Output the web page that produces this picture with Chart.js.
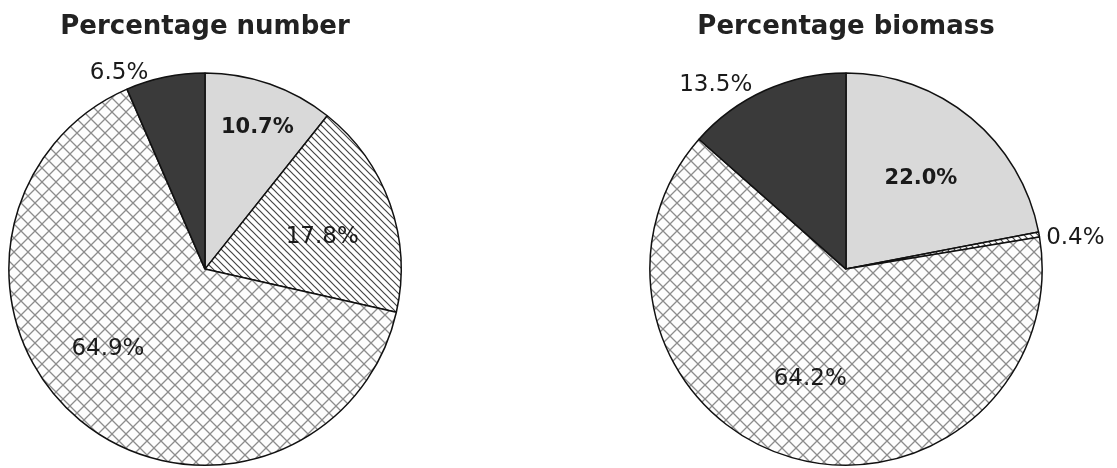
<!DOCTYPE html>
<html>
<head>
<meta charset="utf-8">
<script src="https://cdn.jsdelivr.net/npm/chart.js@4.4.0/dist/chart.umd.min.js"></script>
<style>
  body { margin: 0; background: #fff; }
  .box { position: absolute; top: 0; height: 468px; }
</style>
</head>
<body>
<div class="box" style="left:0;width:420px"><canvas id="pie-number"></canvas></div>
<div class="box" style="left:600px;width:517px"><canvas id="pie-biomass"></canvas></div>
<script>
var categories = ['Group A', 'Group B', 'Group C', 'Group D', 'Group E'];
// left pie: percentage number (group C not present)
var numberValues = [10.7, 17.8, 0, 64.9, 6.5];
var numberLabels = ['10.7%', '17.8%', '', '64.9%', '6.5%'];
// right pie: percentage biomass (group B not present)
var biomassValues = [22.0, 0, 0.4, 64.2, 13.5];
var biomassLabels = ['22.0%', '', '0.4%', '64.2%', '13.5%'];

// label placement: fraction of radius, angle shift in degrees, bold
var numberLabelPos = [[0.77, 1, true], [0.62, 4, false], [0, 0, false], [0.64, 11, false], [1.09, -12, false]];
var biomassLabelPos = [[0.6, 0, true], [0, 0, false], [1.18, 2.5, false], [0.59, 2, false], [1.15, -11, false]];

function hatchPattern() {
  var c = document.createElement('canvas');
  c.width = 7; c.height = 7;
  var g = c.getContext('2d');
  g.fillStyle = '#fff';
  g.fillRect(0, 0, 7, 7);
  g.strokeStyle = '#444';
  g.lineWidth = 1.2;
  g.beginPath();
  g.moveTo(-1, -1); g.lineTo(8, 8);
  g.moveTo(-8, -1); g.lineTo(1, 8);
  g.moveTo(6, -1); g.lineTo(15, 8);
  g.stroke();
  return g.createPattern(c, 'repeat');
}

function crossPattern() {
  var c = document.createElement('canvas');
  c.width = 14; c.height = 14;
  var g = c.getContext('2d');
  g.fillStyle = '#fdfdfd';
  g.fillRect(0, 0, 14, 14);
  g.strokeStyle = '#8c8c8c';
  g.lineWidth = 1.3;
  g.beginPath();
  g.moveTo(0, 0); g.lineTo(14, 14);
  g.moveTo(14, 0); g.lineTo(0, 14);
  g.stroke();
  return g.createPattern(c, 'repeat');
}

var fills = ['#d9d9d9', hatchPattern(), hatchPattern(), crossPattern(), '#3a3a3a'];

var pieLabels = {
  id: 'pieLabels',
  afterDatasetsDraw: function(chart) {
    var ctx = chart.ctx;
    var meta = chart.getDatasetMeta(0);
    var texts = chart.options.plugins.pieLabels.texts;
    var pos = chart.options.plugins.pieLabels.pos;
    ctx.save();
    ctx.textAlign = 'center';
    ctx.textBaseline = 'middle';
    ctx.fillStyle = '#1a1a1a';
    meta.data.forEach(function(arc, i) {
      if (!texts[i]) return;
      var p = arc.getProps(['x', 'y', 'startAngle', 'endAngle', 'outerRadius'], true);
      var a = (p.startAngle + p.endAngle) / 2 + pos[i][1] * Math.PI / 180;
      var r = p.outerRadius * pos[i][0];
      ctx.font = pos[i][2] ? 'bold 21px "DejaVu Sans"' : '23px "DejaVu Sans"';
      ctx.fillText(texts[i], p.x + Math.cos(a) * r, p.y + Math.sin(a) * r);
    });
    ctx.restore();
  }
};

function makePie(id, title, values, texts, pos, padding) {
  return new Chart(document.getElementById(id), {
    type: 'pie',
    data: {
      labels: categories,
      datasets: [{
        data: values,
        backgroundColor: fills,
        borderColor: '#111',
        borderWidth: 1.5
      }]
    },
    options: {
      responsive: true,
      maintainAspectRatio: false,
      animation: false,
      layout: { padding: padding },
      plugins: {
        legend: { display: false },
        tooltip: { enabled: false },
        title: {
          display: true,
          text: title,
          color: '#222',
          font: { family: 'DejaVu Sans', size: 26, weight: 'bold' },
          padding: { top: 12, bottom: 29 }
        },
        pieLabels: { texts: texts, pos: pos }
      }
    },
    plugins: [pieLabels]
  });
}

makePie('pie-number', 'Percentage number', numberValues, numberLabels, numberLabelPos,
  { left: 8, right: 18, top: 0, bottom: 2 });
makePie('pie-biomass', 'Percentage biomass', biomassValues, biomassLabels, biomassLabelPos,
  { left: 49, right: 74, top: 0, bottom: 2 });
</script>
</body>
</html>
